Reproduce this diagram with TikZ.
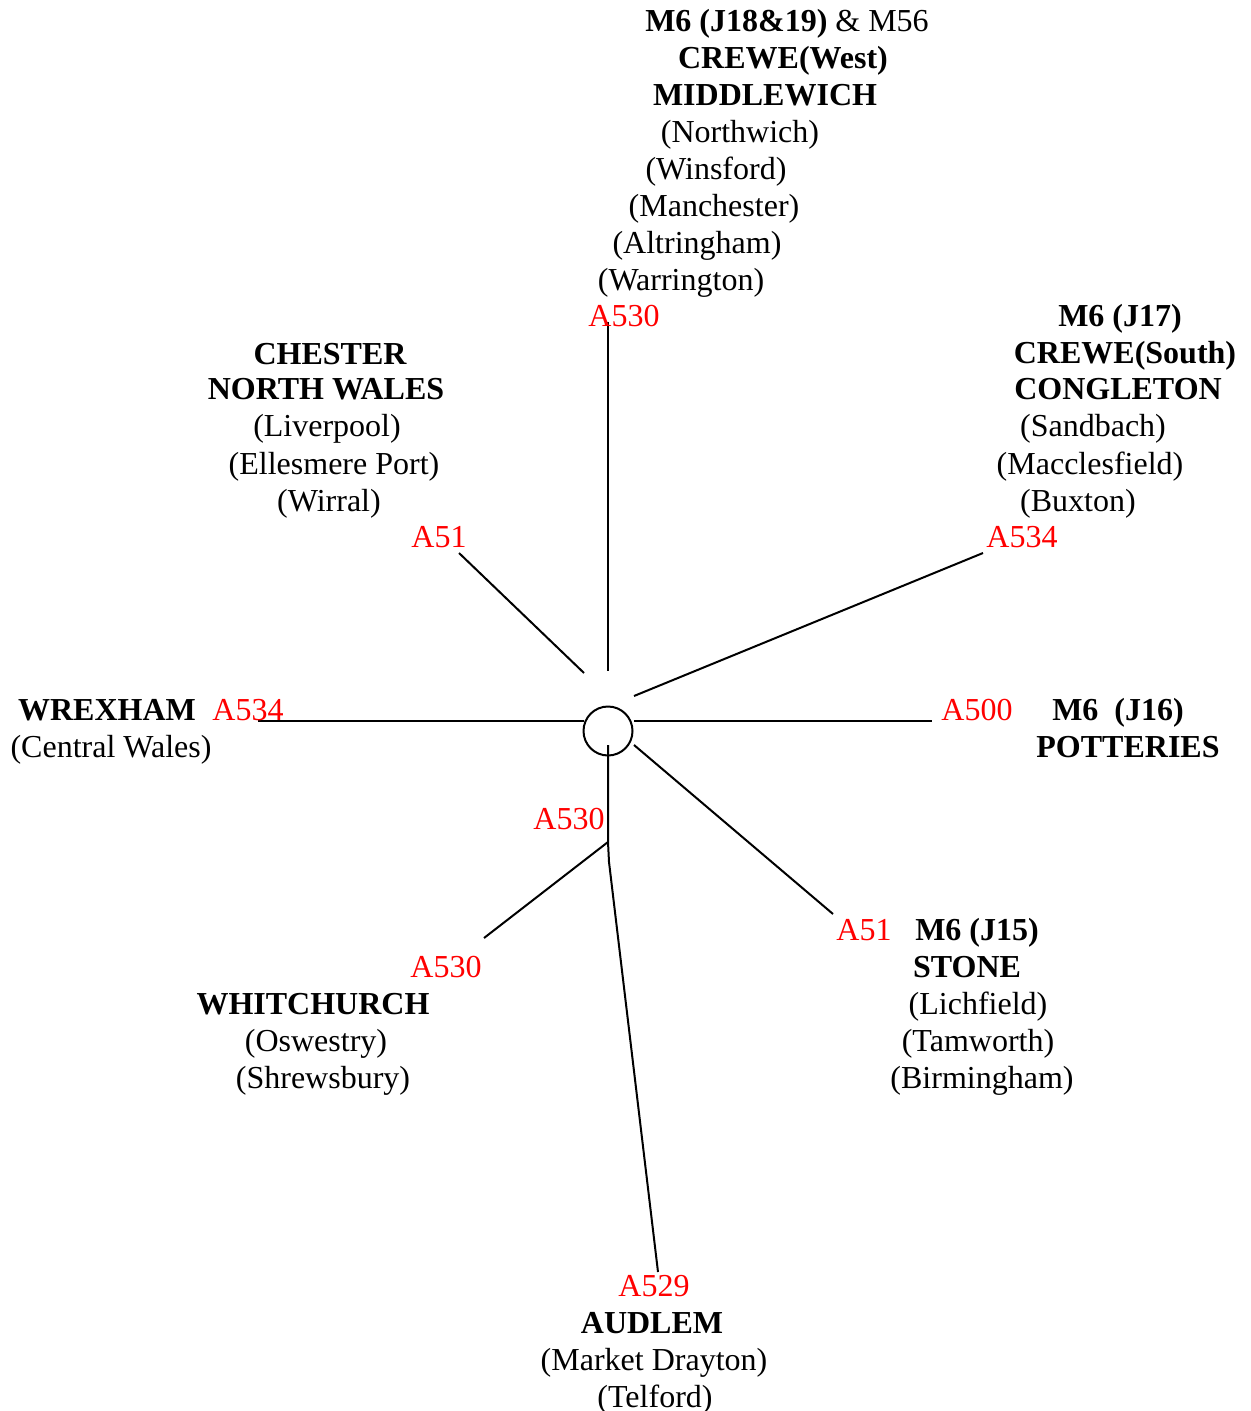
\documentclass[tikz,border=0pt]{standalone}
\usepackage{fontspec}
\setmainfont{Liberation Serif}
\begin{document}
\begin{tikzpicture}[x=0.5pt,y=-0.5pt,
  txt/.style={inner sep=0pt,anchor=base,font=\fontsize{16}{18.5}\selectfont},
  bld/.style={txt,font=\fontsize{16}{18.5}\selectfont\bfseries},
  road/.style={txt,text=red},
  rd/.style={line width=1pt,black}]
\useasboundingbox (0,0) rectangle (1250,1411);
% hub
\node[circle,draw,line width=1pt,minimum size=24.5pt,inner sep=0pt] (hub) at (608,731) {};
% connector endpoints
\coordinate (nA) at (608,322);
\coordinate (nB) at (608,671);
\coordinate (nwA) at (459,553);
\coordinate (nwB) at (584,673);
\coordinate (neA) at (983,553);
\coordinate (neB) at (634,696);
\coordinate (wA) at (258,721);
\coordinate (wB) at (584,721);
\coordinate (eA) at (634,721);
\coordinate (eB) at (932,721);
\coordinate (seA) at (634,745);
\coordinate (seB) at (833,914);
\coordinate (sA) at (608,745);
\coordinate (sJ) at (608,842);
\coordinate (sK) at (609,862);
\coordinate (sB) at (658,1272);
\coordinate (swB) at (484,938);
\draw[rd] (nA) -- (nB);
\draw[rd] (nwA) -- (nwB);
\draw[rd] (neA) -- (neB);
\draw[rd] (wA) -- (wB);
\draw[rd] (eA) -- (eB);
\draw[rd] (seA) -- (seB);
\draw[rd] (sA) -- (sJ) -- (sK) -- (sB);
\draw[rd] (sJ) -- (swB);
% north block
\node[txt] (n1) at (787,32) {\textbf{M6 (J18\&19)} \& M56};
\node[bld] (n2) at (783,69) {CREWE(West)};
\node[bld] (n3) at (765,106) {MIDDLEWICH};
\node[txt] (n4) at (740,143) {(Northwich)};
\node[txt] (n5) at (716,180) {(Winsford)};
\node[txt] (n6) at (714,217) {(Manchester)};
\node[txt] (n7) at (697,254) {(Altringham)};
\node[txt] (n8) at (681,291) {(Warrington)};
\node[road] (nr) at (624,327) {A530};
% north-west block
\node[bld] (nw1) at (330,365) {CHESTER};
\node[bld] (nw2) at (326,400) {NORTH WALES};
\node[txt] (nw3) at (327,437) {(Liverpool)};
\node[txt] (nw4) at (334,474) {(Ellesmere Port)};
\node[txt] (nw5) at (329,511) {(Wirral)};
\node[road] (nwr) at (439,547) {A51};
% north-east block
\node[bld] (ne1) at (1120,327) {M6 (J17)};
\node[bld] (ne2) at (1125,364) {CREWE(South)};
\node[bld] (ne3) at (1118,400) {CONGLETON};
\node[txt] (ne4) at (1093,437) {(Sandbach)};
\node[txt] (ne5) at (1090,474) {(Macclesfield)};
\node[txt] (ne6) at (1078,511) {(Buxton)};
\node[road] (ner) at (1022,547) {A534};
% west
\node[bld] (w1) at (107,720) {WREXHAM};
\node[road] (wr) at (248,720) {A534};
\node[txt] (w2) at (111,757) {(Central Wales)};
% east
\node[road] (er) at (977,720) {A500};
\node[bld] (e1) at (1118,720) {M6\ \ (J16)};
\node[bld] (e2) at (1128,757) {POTTERIES};
% south
\node[road] (sr1) at (569,829) {A530};
\node[road] (swr) at (446,977) {A530};
\node[bld] (sw1) at (313,1014) {WHITCHURCH};
\node[txt] (sw2) at (316,1051) {(Oswestry)};
\node[txt] (sw3) at (323,1088) {(Shrewsbury)};
% south-east
\node[road] (ser) at (864,940) {A51};
\node[bld] (se1) at (977,940) {M6 (J15)};
\node[bld] (se2) at (967,977) {STONE};
\node[txt] (se3) at (978,1014) {(Lichfield)};
\node[txt] (se4) at (978,1051) {(Tamworth)};
\node[txt] (se5) at (982,1088) {(Birmingham)};
% bottom
\node[road] (br) at (654,1296) {A529};
\node[bld] (b1) at (652,1333) {AUDLEM};
\node[txt] (b2) at (654,1370) {(Market Drayton)};
\node[txt] (b3) at (655,1407) {(Telford)};
\end{tikzpicture}
\end{document}
